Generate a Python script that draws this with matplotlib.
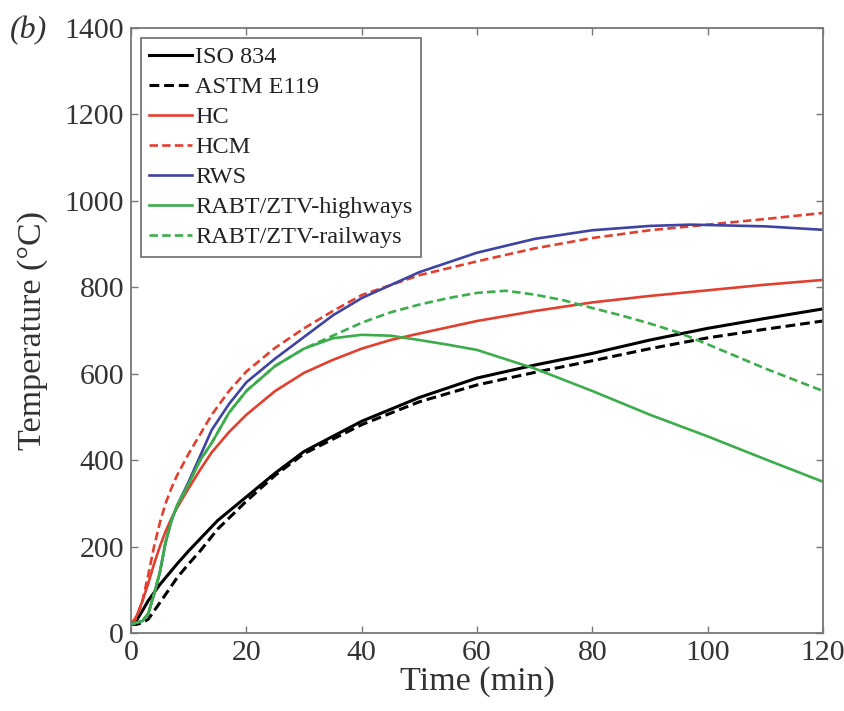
import matplotlib
matplotlib.use("Agg")
import matplotlib.pyplot as plt

# ---- data ----
t_iso = [0, 1, 2, 3, 5, 8, 10, 12, 15, 20, 25, 30, 40, 50, 60, 70, 80, 90, 100, 110, 120]
iso834 = [20, 30, 52, 75, 112, 160, 190, 218, 260, 315, 370, 420, 490, 545, 590, 620, 647, 678, 705, 728, 750]

t_astm = [0, 1, 2, 3, 5, 8, 10, 12, 15, 20, 25, 30, 40, 50, 60, 70, 80, 90, 100, 110, 120]
astm = [20, 20, 24, 32, 70, 128, 160, 190, 240, 305, 365, 415, 482, 535, 574, 603, 630, 658, 683, 703, 722]

t_hc = [0, 1, 2, 3, 4, 5, 6, 7, 8, 10, 12, 14, 17, 20, 25, 30, 35, 40, 45, 50, 60, 70, 80, 90, 100, 110, 120]
hc = [20, 40, 75, 115, 160, 200, 235, 265, 290, 335, 378, 418, 465, 505, 560, 602, 632, 658, 678, 693, 722, 745, 765, 780, 793, 806, 817]

t_hcm = [0, 1, 2, 3, 4, 5, 6, 7, 8, 10, 12, 14, 17, 20, 25, 30, 35, 40, 50, 60, 70, 80, 90, 100, 110, 120]
hcm = [20, 35, 75, 135, 200, 255, 300, 335, 365, 415, 460, 505, 560, 605, 660, 705, 745, 782, 828, 860, 890, 914, 932, 945, 958, 972]

t_rws = [0, 2, 3, 4, 5, 6, 7, 8, 10, 12, 14, 17, 20, 25, 30, 35, 40, 50, 60, 70, 80, 90, 97, 110, 120]
rws = [20, 28, 45, 90, 140, 210, 260, 295, 350, 410, 470, 530, 580, 635, 685, 735, 775, 835, 880, 912, 932, 942, 945, 941, 933]

t_hwy = [0, 2, 3, 4, 5, 6, 7, 8, 10, 12, 14, 17, 20, 25, 30, 35, 40, 45, 50, 55, 60, 70, 80, 90, 100, 110, 120]
rabt_hwy = [20, 28, 45, 90, 140, 210, 260, 295, 345, 400, 440, 510, 560, 618, 658, 682, 690, 688, 678, 667, 655, 612, 560, 505, 455, 402, 350]

t_rail = [0, 2, 3, 4, 5, 6, 7, 8, 10, 12, 14, 17, 20, 25, 30, 35, 40, 45, 50, 55, 60, 65, 70, 75, 80, 85, 90, 95, 100, 110, 120]
rabt_rail = [20, 28, 45, 90, 140, 210, 260, 295, 345, 400, 440, 510, 560, 618, 658, 688, 718, 742, 760, 775, 787, 792, 783, 770, 752, 735, 716, 695, 668, 612, 560]

x_ticks = [0, 20, 40, 60, 80, 100, 120]
y_ticks = [0, 200, 400, 600, 800, 1000, 1200, 1400]

# ---- figure ----
plt.rcParams['font.family'] = ['Liberation Serif', 'DejaVu Serif']

fig = plt.figure(figsize=(8.45, 7.11), dpi=100)
ax = fig.add_axes([131 / 845, 1 - 633 / 711, (823 - 131) / 845, (633 - 28) / 711])

RED = '#E2402F'
BLUE = '#3E44A3'
GREEN = '#3DAD4C'
dash = (0, (3.2, 1.6))

ax.plot(t_iso, iso834, color='black', lw=2.2, label='ISO 834')
ax.plot(t_astm, astm, color='black', lw=2.2, linestyle=dash, label='ASTM E119')
ax.plot(t_hc, hc, color=RED, lw=1.9, label='HC')
ax.plot(t_hcm, hcm, color=RED, lw=1.9, linestyle=dash, label='HCM')
ax.plot(t_rws, rws, color=BLUE, lw=1.9, label='RWS')
ax.plot(t_hwy, rabt_hwy, color=GREEN, lw=1.9, label='RABT/ZTV-highways')
ax.plot(t_rail, rabt_rail, color=GREEN, lw=1.9, linestyle=dash, label='RABT/ZTV-railways')

ax.set_xlim(0, 120)
ax.set_ylim(0, 1400)
ax.set_xticks(x_ticks)
ax.set_yticks(y_ticks)
ax.tick_params(direction='in', top=True, right=True, length=5, width=1,
               color='#777777', labelsize=21.5, labelcolor='#333333', pad=5)
for s in ax.spines.values():
    s.set_color('#777777')
    s.set_linewidth(1.3)

ax.set_xlabel('Time (min)', fontsize=24.5, color='#333333', labelpad=0)
ax.set_ylabel('Temperature (°C)', fontsize=24.5, color='#333333', labelpad=12)

leg = ax.legend(loc='upper left', fontsize=17.5, frameon=True, fancybox=False,
                edgecolor='#777777', framealpha=1, handlelength=1.75,
                handletextpad=0.15, labelspacing=0.33, borderpad=0.35,
                borderaxespad=0.4)
leg.get_frame().set_linewidth(1.3)
for txt in leg.get_texts():
    txt.set_color('#222222')

fig.text(10 / 845, 1 - 31 / 711, '(b)', fontsize=23, style='italic',
         color='#333333', va='center', ha='left')

fig.savefig('out.png', dpi=100)
